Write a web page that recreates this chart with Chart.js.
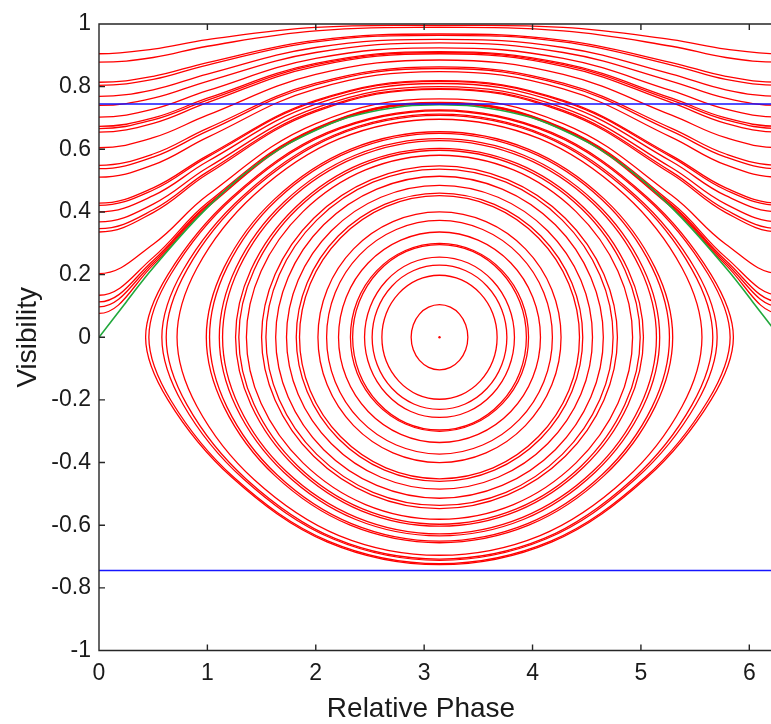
<!DOCTYPE html>
<html>
<head>
<meta charset="utf-8">
<script src="https://cdn.jsdelivr.net/npm/chart.js@4.4.1/dist/chart.umd.min.js"></script>
<style>
  html, body { margin: 0; padding: 0; background: #fff; overflow: hidden; }
  #wrap { width: 800px; height: 724px; }
</style>
</head>
<body>
<div id="wrap"><canvas id="phaseChart" width="800" height="724"></canvas></div>
<script>
var PI = Math.PI;
var TWO_PI = 2 * Math.PI;

// phase columns at which the open (running) orbits were read, left half only;
// the right half is the mirror image about pi
var runPhase = [0, 0.5, 1, 2, PI];
var runningOrbits = [
  [0.905, 0.920, 0.950, 0.989, 0.995],
  [0.878, 0.893, 0.929, 0.978, 0.989],
  [0.814, 0.833, 0.877, 0.948, 0.968],
  [0.804, 0.823, 0.869, 0.943, 0.964],
  [0.769, 0.790, 0.840, 0.925, 0.951],
  [0.740, 0.763, 0.817, 0.909, 0.940],
  [0.703, 0.728, 0.787, 0.890, 0.924],
  [0.673, 0.700, 0.763, 0.874, 0.912],
  [0.666, 0.694, 0.757, 0.870, 0.909],
  [0.655, 0.683, 0.749, 0.865, 0.905],
  [0.605, 0.637, 0.709, 0.839, 0.885],
  [0.549, 0.585, 0.667, 0.811, 0.863],
  [0.538, 0.575, 0.658, 0.806, 0.858],
  [0.511, 0.550, 0.638, 0.793, 0.848],
  [0.428, 0.477, 0.580, 0.756, 0.819],
  [0.421, 0.470, 0.575, 0.753, 0.817],
  [0.400, 0.452, 0.561, 0.744, 0.810],
  [0.368, 0.425, 0.541, 0.732, 0.800],
  [0.347, 0.407, 0.528, 0.724, 0.794],
  [0.336, 0.398, 0.521, 0.720, 0.791],
  [0.203, 0.297, 0.453, 0.682, 0.761],
  [0.134, 0.255, 0.429, 0.668, 0.750],
  [0.113, 0.245, 0.423, 0.666, 0.748],
  [0.097, 0.238, 0.420, 0.664, 0.747],
  [0.076, 0.231, 0.415, 0.662, 0.745]
];

// closed orbits round (pi, 0): upper-left quarter, from the left tip to the top
var closedOrbits = [
  [[0.43, 0], [0.636, 0.200], [1.225, 0.447], [2.103, 0.653], [PI, 0.726]],
  [[0.46, 0], [0.664, 0.202], [1.246, 0.448], [2.115, 0.651], [PI, 0.723]],
  [[0.58, 0], [0.775, 0.214], [1.331, 0.452], [2.160, 0.644], [PI, 0.712]],
  [[0.62, 0], [0.812, 0.216], [1.359, 0.453], [2.176, 0.642], [PI, 0.708]],
  [[0.72, 0], [0.904, 0.221], [1.430, 0.454], [2.214, 0.633], [PI, 0.696]],
  [[0.99, 0], [1.154, 0.223], [1.620, 0.441], [2.318, 0.600], [PI, 0.656]],
  [[1.02, 0], [1.181, 0.223], [1.642, 0.439], [2.329, 0.595], [PI, 0.651]],
  [[1.11, 0], [1.264, 0.222], [1.705, 0.431], [2.363, 0.581], [PI, 0.634]],
  [[1.14, 0], [1.292, 0.221], [1.726, 0.428], [2.375, 0.575], [PI, 0.628]],
  [[1.26, 0], [1.403, 0.216], [1.811, 0.414], [2.421, 0.554], [PI, 0.603]],
  [[1.29, 0], [1.431, 0.215], [1.833, 0.411], [2.432, 0.548], [PI, 0.597]],
  [[1.36, 0], [1.495, 0.211], [1.882, 0.401], [2.459, 0.534], [PI, 0.581]],
  [[1.50, 0], [1.625, 0.201], [1.981, 0.380], [2.513, 0.503], [PI, 0.547]],
  [[1.54, 0], [1.662, 0.199], [2.009, 0.374], [2.528, 0.495], [PI, 0.537]],
  [[1.63, 0], [1.745, 0.191], [2.073, 0.359], [2.563, 0.473], [PI, 0.514]],
  [[1.73, 0], [1.837, 0.182], [2.144, 0.340], [2.601, 0.447], [PI, 0.485]],
  [[1.82, 0], [1.920, 0.173], [2.207, 0.323], [2.635, 0.424], [PI, 0.460]],
  [[1.85, 0], [1.948, 0.170], [2.228, 0.317], [2.647, 0.417], [PI, 0.452]],
  [[2.02, 0], [2.105, 0.152], [2.349, 0.282], [2.712, 0.369], [PI, 0.400]],
  [[2.10, 0], [2.179, 0.142], [2.405, 0.263], [2.743, 0.344], [PI, 0.373]],
  [[2.21, 0], [2.281, 0.128], [2.483, 0.237], [2.785, 0.310], [PI, 0.336]],
  [[2.32, 0], [2.382, 0.115], [2.561, 0.212], [2.827, 0.277], [PI, 0.300]],
  [[2.34, 0], [2.401, 0.113], [2.575, 0.209], [2.835, 0.274], [PI, 0.296]],
  [[2.45, 0], [2.503, 0.098], [2.653, 0.181], [2.877, 0.237], [PI, 0.256]],
  [[2.52, 0], [2.567, 0.088], [2.702, 0.163], [2.904, 0.213], [PI, 0.230]],
  [[2.61, 0], [2.650, 0.076], [2.766, 0.140], [2.938, 0.183], [PI, 0.198]],
  [[2.88, 0], [2.900, 0.040], [2.957, 0.074], [3.041, 0.096], [PI, 0.104]]
];
var centrePoint = [PI, 0];

// separatrix (green), left half
var sepPhase = [0, 0.25, 0.5, 1, 1.5, 2, 2.5, PI];
var sepVis = [0, 0.112, 0.222, 0.414, 0.562, 0.661, 0.719, 0.742];

// horizontal limits (blue)
var limitLevels = [0.745, -0.745];

var xTicks = [0, 1, 2, 3, 4, 5, 6];
var yTicks = [-1, -0.8, -0.6, -0.4, -0.2, 0, 0.2, 0.4, 0.6, 0.8, 1];
var xTitle = 'Relative Phase';
var yTitle = 'Visibility';

var RED = '#ff0000';
var BLUE = '#1515ff';
var GREEN = '#22a83c';
var INK = '#1a1a1a';
var FONT = 'Liberation Sans, Arial, sans-serif';

function hideEnds(lastIdx) {
  return function(ctx) {
    if (ctx.p0DataIndex === 0 || ctx.p1DataIndex === lastIdx) return 'rgba(0,0,0,0)';
    return undefined;
  };
}

function runningPoints(ys) {
  var pts = [];
  for (var i = 0; i < runPhase.length; i++) pts.push({x: runPhase[i], y: ys[i]});
  for (var j = runPhase.length - 2; j >= 0; j--) pts.push({x: TWO_PI - runPhase[j], y: ys[j]});
  // the orbit is 2pi periodic: one step past each edge keeps it flat there
  pts.unshift({x: -runPhase[1], y: ys[1]});
  pts.push({x: TWO_PI + runPhase[1], y: ys[1]});
  return pts;
}

function closedPoints(q) {
  var loop = [];
  var n = q.length, i;
  for (i = 0; i < n; i++) loop.push({x: q[i][0], y: q[i][1]});
  for (i = n - 2; i >= 0; i--) loop.push({x: TWO_PI - q[i][0], y: q[i][1]});
  for (i = 1; i < n; i++) loop.push({x: TWO_PI - q[i][0], y: -q[i][1]});
  for (i = n - 2; i >= 1; i--) loop.push({x: q[i][0], y: -q[i][1]});
  // wrap so the spline runs smoothly through the closing point
  return [loop[loop.length - 1]].concat(loop, [loop[0], loop[1]]);
}

var datasets = [];

limitLevels.forEach(function(v) {
  datasets.push({
    data: [{x: 0, y: v}, {x: TWO_PI, y: v}],
    borderColor: BLUE, borderWidth: 1.5, tension: 0
  });
});

var sepPts = [];
for (var i = 0; i < sepPhase.length; i++) sepPts.push({x: sepPhase[i], y: sepVis[i]});
for (var j = sepPhase.length - 2; j >= 0; j--) sepPts.push({x: TWO_PI - sepPhase[j], y: sepVis[j]});
datasets.push({ data: sepPts, borderColor: GREEN, borderWidth: 1.6, tension: 0.4 });

runningOrbits.forEach(function(ys) {
  var pts = runningPoints(ys);
  datasets.push({
    data: pts, borderColor: RED, borderWidth: 1.3, tension: 0.4,
    segment: { borderColor: hideEnds(pts.length - 1) }
  });
});

closedOrbits.forEach(function(q) {
  var pts = closedPoints(q);
  datasets.push({
    data: pts, borderColor: RED, borderWidth: 1.3, tension: 0.35,
    segment: { borderColor: hideEnds(pts.length - 1) }
  });
});

datasets.push({
  data: [{x: centrePoint[0], y: centrePoint[1]}],
  showLine: false, pointRadius: 1.2, pointBackgroundColor: RED, pointBorderWidth: 0
});

// MATLAB-style box: left, bottom and top lines with inward ticks, plus axis titles
var framePlugin = {
  id: 'matlabFrame',
  afterDraw: function(chart) {
    var ctx = chart.ctx, a = chart.chartArea;
    var xs = chart.scales.x, ys = chart.scales.y;
    ctx.save();
    ctx.strokeStyle = '#262626';
    ctx.lineWidth = 1.4;
    ctx.beginPath();
    ctx.moveTo(a.right + 5, a.top);
    ctx.lineTo(a.left, a.top);
    ctx.lineTo(a.left, a.bottom);
    ctx.lineTo(a.right + 5, a.bottom);
    xTicks.forEach(function(v) {
      var px = xs.getPixelForValue(v);
      ctx.moveTo(px, a.bottom); ctx.lineTo(px, a.bottom - 6);
      ctx.moveTo(px, a.top); ctx.lineTo(px, a.top + 6);
    });
    yTicks.forEach(function(v) {
      var py = ys.getPixelForValue(v);
      ctx.moveTo(a.left, py); ctx.lineTo(a.left + 6, py);
    });
    ctx.stroke();

    ctx.fillStyle = INK;
    ctx.font = '28px ' + FONT;
    ctx.textAlign = 'center';
    ctx.textBaseline = 'middle';
    ctx.fillText(xTitle, 421, 709);
    ctx.translate(28, (a.top + a.bottom) / 2);
    ctx.rotate(-Math.PI / 2);
    ctx.fillText(yTitle, 0, 0);
    ctx.restore();
  }
};

var tickFont = { family: FONT, size: 23 };

new Chart(document.getElementById('phaseChart'), {
  type: 'line',
  data: { datasets: datasets },
  options: {
    responsive: false,
    animation: false,
    devicePixelRatio: 1,
    events: [],
    layout: { padding: { left: 0, right: 20, top: 24, bottom: 0 } },
    elements: { point: { radius: 0 } },
    plugins: { legend: { display: false }, tooltip: { enabled: false } },
    scales: {
      x: {
        type: 'linear', min: 0, max: TWO_PI,
        grid: { display: false, drawTicks: false },
        border: { display: false },
        ticks: { stepSize: 1, includeBounds: false, padding: 9, color: INK, font: tickFont, maxRotation: 0 },
        afterFit: function(scale) { scale.height = 73.5; }
      },
      y: {
        type: 'linear', min: -1, max: 1,
        grid: { display: false, drawTicks: false },
        border: { display: false },
        ticks: {
          stepSize: 0.2, padding: 8, color: INK, font: tickFont,
          callback: function(v) { return String(Math.round(v * 10) / 10); }
        },
        afterFit: function(scale) { scale.width = 99; }
      }
    }
  },
  plugins: [framePlugin]
});
</script>
</body>
</html>
